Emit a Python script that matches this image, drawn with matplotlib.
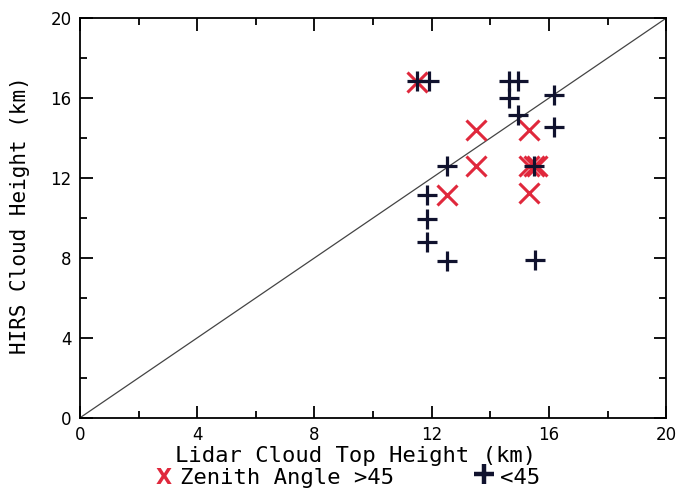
import numpy as np
import matplotlib.pyplot as plt
from matplotlib.lines import Line2D
from matplotlib.ticker import MultipleLocator

# zenith angle > 45 (red X)
high_x = [11.51, 13.5, 15.33, 13.5, 15.33, 15.5, 15.6, 12.51, 15.33]
high_y = [16.8, 14.4, 14.4, 12.6, 12.6, 12.6, 12.6, 11.15, 11.23]

# zenith angle < 45 (black +)
low_x = [11.51, 11.91, 14.64, 14.93, 14.64, 14.93, 16.18, 16.18,
         12.51, 15.5, 11.83, 11.83, 11.83, 12.51, 15.52]
low_y = [16.87, 16.87, 16.87, 16.87, 16.03, 15.15, 16.18, 14.57,
         12.6, 12.6, 11.15, 9.93, 8.82, 7.87, 7.9]

red = '#e0283c'
navy = '#10122e'
mono = 'DejaVu Sans Mono'

fig = plt.figure(figsize=(6.77, 4.91), dpi=100)
ax = fig.add_axes([0.118, 0.149, 0.866, 0.814])

ax.plot([0, 20], [0, 20], color='#444444', lw=0.9)
ax.plot(high_x, high_y, ls='none', marker='x', ms=15, mew=2.2, color=red)
ax.plot(low_x, low_y, ls='none', marker='+', ms=14.5, mew=2.3, color=navy)

ax.set_xlim(0, 20)
ax.set_ylim(0, 20)
ax.xaxis.set_major_locator(MultipleLocator(4))
ax.yaxis.set_major_locator(MultipleLocator(4))
ax.xaxis.set_minor_locator(MultipleLocator(2))
ax.yaxis.set_minor_locator(MultipleLocator(2))
ax.tick_params(which='both', direction='in', top=True, right=True, width=1.3)
ax.tick_params(which='major', length=9, labelsize=12, pad=6)
ax.tick_params(which='minor', length=5)
for s in ax.spines.values():
    s.set_linewidth(1.3)

# axis titles placed by hand to follow the original layout
fig.text(0.525, 0.060, 'Lidar Cloud Top Height (km)', family=mono, fontsize=16,
         ha='center', va='baseline')
fig.text(0.030, 0.562, 'HIRS Cloud Height (km)', family=mono, fontsize=15,
         rotation=90, ha='center', va='center')

# legend row under the x label
fig.text(0.2415, 0.015, 'X', color=red, fontsize=15, fontweight='bold',
         family='DejaVu Sans', ha='center', va='baseline')
fig.text(0.266, 0.015, 'Zenith Angle >45', family=mono, fontsize=16, va='baseline')
fig.add_artist(Line2D([0.715], [0.035], marker='+', ms=14, mew=3.2, color=navy,
                      transform=fig.transFigure))
fig.text(0.739, 0.015, '<45', family=mono, fontsize=16, va='baseline')

fig.savefig('out.png', dpi=100)
